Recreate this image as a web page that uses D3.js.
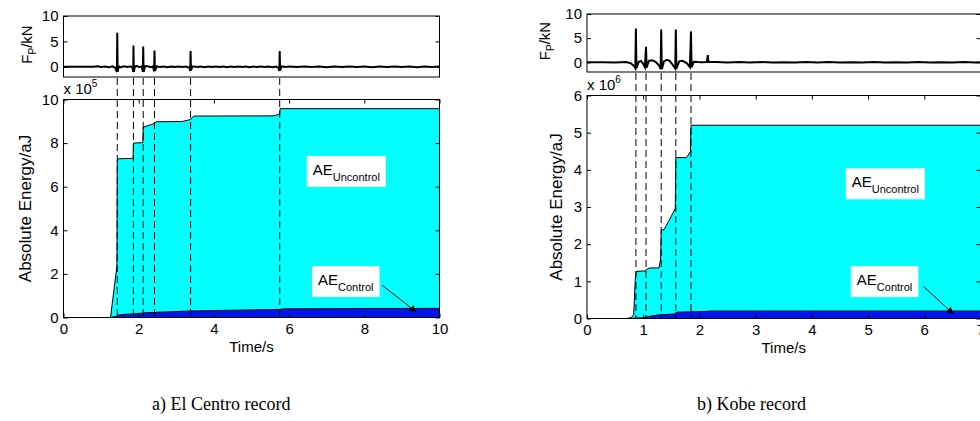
<!DOCTYPE html>
<html>
<head>
<meta charset="utf-8">
<script src="https://cdn.jsdelivr.net/npm/d3@7"></script>
<style>
  body { margin: 0; background: #fff; }
  text { font-family: "Liberation Sans", Arial, sans-serif; fill: #000; }
</style>
</head>
<body>
<div id="chart"></div>
<script>
// ---- El Centro record (a) ----
// damper force F_P [kN] vs time [s]
const elcForce = [[0,0],[0.8,0],[0.9,0.1],[1.0,-0.05],[1.1,0.08],[1.2,-0.1],[1.3,0.1],[1.38,-0.2],[1.42,-1.0],[1.43,6.7],[1.44,-1.0],
  [1.47,0.1],[1.52,-0.1],[1.6,0.1],[1.7,-0.05],[1.78,0.1],[1.84,-0.2],[1.855,-1.0],[1.86,4.2],[1.87,-1.0],[1.9,0.1],[1.96,0.15],
  [2.02,-0.05],[2.08,0.1],[2.11,-1.0],[2.12,4.0],[2.13,-1.0],[2.17,0.15],[2.24,0.1],[2.32,-0.05],[2.38,0.1],[2.41,-0.9],[2.42,3.2],
  [2.43,-0.8],[2.48,0.1],[2.56,-0.05],[2.66,0.08],[2.76,-0.08],[2.86,0.05],[2.96,-0.05],[3.06,0.08],[3.16,-0.05],[3.26,0.05],[3.35,-0.2],
  [3.37,-0.8],[3.38,3.1],[3.39,-0.7],[3.43,0.1],[3.55,-0.05],[3.65,0.05],[3.75,-0.08],[3.85,0.05],[3.95,-0.05],[4.05,0.08],[4.15,-0.05],
  [4.25,0.05],[4.35,-0.08],[4.45,0.05],[4.55,-0.05],[4.65,0.08],[4.75,-0.05],[4.85,0.05],[4.95,-0.08],[5.05,0.05],[5.15,-0.05],[5.25,0.08],
  [5.35,-0.05],[5.45,0.05],[5.55,-0.08],[5.65,0.05],[5.72,-0.2],[5.74,-0.8],[5.75,3.1],[5.76,-0.7],[5.8,0.1],[5.9,-0.05],[6.0,0.05],
  [6.2,-0.05],[6.4,0.06],[6.6,-0.05],[6.8,0.05],[7.0,-0.06],[7.2,0.05],[7.4,-0.05],[7.6,0.06],[7.8,-0.05],[8.0,0.05],[8.2,-0.06],[8.4,0.05],
  [8.6,-0.05],[8.8,0.06],[9.0,-0.05],[9.2,0.05],[9.4,-0.06],[9.6,0.05],[9.8,-0.05],[10,0.05]];
// absolute energy, x 10^5
const elcUncontrol = [[0,0],[1.25,0],[1.42,2.35],[1.43,7.2],[1.46,7.28],[1.85,7.3],[1.86,8.0],[2.11,8.02],[2.12,8.73],[2.3,8.83],
  [2.42,8.9],[2.46,8.98],[3.15,8.99],[3.38,9.08],[3.46,9.24],[5.6,9.25],[5.75,9.33],[5.76,9.58],[10,9.58]];
const elcControl = [[0,0],[1.25,0],[1.4,0.05],[1.45,0.12],[2.1,0.2],[2.2,0.22],[3.38,0.3],[5.75,0.37],[5.9,0.4],[10,0.42]];
const elcPeaks = [1.43, 1.86, 2.12, 2.42, 3.38, 5.75];

// ---- Kobe record (b) ----
const kobeForce = [[0,0],[0.3,0.03],[0.5,-0.03],[0.7,0.05],[0.78,-0.2],[0.84,-0.8],[0.86,-1.2],[0.87,7.0],[0.88,-1.2],[0.92,0.1],
  [0.96,0.3],[1.0,-0.3],[1.03,-1.0],[1.05,3.2],[1.06,-1.1],[1.1,0.3],[1.16,0.4],[1.22,0.1],[1.28,-0.6],[1.31,-1.4],[1.32,6.8],
  [1.33,-1.4],[1.37,0.2],[1.42,0.5],[1.47,0.3],[1.53,-0.6],[1.57,-1.3],[1.58,6.8],[1.59,-1.3],[1.64,0.2],[1.7,0.3],[1.78,-0.2],
  [1.83,-1.0],[1.85,6.4],[1.86,-1.0],[1.9,0.1],[1.97,0.05],[2.05,0.03],[2.13,0.05],[2.15,1.5],[2.16,0.05],[2.3,0.05],[2.5,-0.05],
  [2.7,0.05],[2.9,-0.03],[3.1,0.05],[3.3,-0.05],[3.5,0.03],[3.7,-0.05],[3.9,0.05],[4.1,-0.03],[4.3,0.05],[4.5,-0.05],[4.7,0.03],
  [4.9,-0.05],[5.1,0.05],[5.3,-0.05],[5.5,0.03],[5.7,-0.05],[5.9,0.05],[6.1,-0.05],[6.3,0.03],[6.5,-0.05],[6.7,0.05],[6.9,-0.03],[7,0.03]];
// absolute energy, x 10^6
const kobeUncontrol = [[0,0],[0.7,0],[0.78,0.02],[0.83,0.1],[0.86,1.1],[0.88,1.27],[1.03,1.28],[1.07,1.33],[1.12,1.36],[1.28,1.36],
  [1.31,1.6],[1.32,2.38],[1.37,2.39],[1.57,2.95],[1.58,4.33],[1.77,4.33],[1.84,4.49],[1.85,5.2],[7,5.2]];
const kobeControl = [[0,0],[0.7,0],[1.0,0.02],[1.15,0.07],[1.3,0.1],[1.55,0.12],[1.6,0.17],[2.1,0.19],[2.2,0.2],[7,0.2]];
const kobePeaks = [0.87, 1.05, 1.32, 1.58, 1.85];

// tick values
const forceTicks = [0, 5, 10];
const elcEnergyTicks = [0, 2, 4, 6, 8, 10];
const elcTimeTicks = [0, 2, 4, 6, 8, 10];
const kobeEnergyTicks = [0, 1, 2, 3, 4, 5, 6];
const kobeTimeTicks = [0, 1, 2, 3, 4, 5, 6, 7];

const W = 980, H = 421;
const svg = d3.select("#chart").append("svg").attr("width", W).attr("height", H);
const fmt = d3.format("~g");

function panel(cfg) {
  const g = svg.append("g");
  const x = d3.scaleLinear().domain(cfg.xDomain).range([cfg.left, cfg.right]);
  const yF = d3.scaleLinear().domain([-2, 10]).range([cfg.fBottom, cfg.fTop]);
  const yE = d3.scaleLinear().domain(cfg.eDomain).range([cfg.eBottom, cfg.eTop]);

  const clipF = cfg.id + "-f", clipE = cfg.id + "-e";
  const defs = g.append("defs");
  defs.append("clipPath").attr("id", clipF).append("rect")
    .attr("x", cfg.left).attr("y", cfg.fTop).attr("width", cfg.right - cfg.left).attr("height", cfg.fBottom - cfg.fTop);
  defs.append("clipPath").attr("id", clipE).append("rect")
    .attr("x", cfg.left).attr("y", cfg.eTop).attr("width", cfg.right - cfg.left).attr("height", cfg.eBottom - cfg.eTop);

  // force panel
  const line = d3.line().x(d => x(d[0])).y(d => yF(d[1]));
  g.append("path").datum(cfg.force).attr("clip-path", `url(#${clipF})`)
    .attr("d", line).attr("fill", "none").attr("stroke", "#000").attr("stroke-width", 2);

  // energy areas
  const area = d3.area().x(d => x(d[0])).y0(yE(0)).y1(d => yE(d[1]));
  const top = d3.line().x(d => x(d[0])).y(d => yE(d[1]));
  const ge = g.append("g").attr("clip-path", `url(#${clipE})`);
  ge.append("path").datum(cfg.uncontrol).attr("d", area).attr("fill", "#00ffff");
  ge.append("path").datum(cfg.uncontrol).attr("d", top).attr("fill", "none").attr("stroke", "#000").attr("stroke-width", 1);
  ge.append("path").datum(cfg.control).attr("d", area).attr("fill", "#0014f0");
  ge.append("path").datum(cfg.control).attr("d", top).attr("fill", "none").attr("stroke", "#000").attr("stroke-width", 1);

  // dashed markers from force panel bottom to energy axis
  g.selectAll(".mark").data(cfg.peaks).join("line")
    .attr("x1", d => x(d)).attr("x2", d => x(d))
    .attr("y1", cfg.fBottom + 1).attr("y2", cfg.eBottom)
    .attr("stroke", "#000").attr("stroke-width", 1).attr("stroke-dasharray", "7,4");

  // axes (MATLAB style: inward ticks on all sides)
  const fontTick = "15px";
  g.append("g").attr("transform", `translate(${cfg.left},0)`)
    .call(d3.axisLeft(yF).tickValues(forceTicks).tickFormat(fmt).tickSizeInner(-4).tickSizeOuter(0).tickPadding(5))
    .call(a => a.select(".domain").remove()).selectAll("text").style("font-size", fontTick);
  g.append("g").attr("transform", `translate(${cfg.right},0)`)
    .call(d3.axisRight(yF).tickValues(forceTicks).tickSizeInner(-4).tickSizeOuter(0).tickFormat(""))
    .call(a => a.select(".domain").remove());

  g.append("g").attr("transform", `translate(${cfg.left},0)`)
    .call(d3.axisLeft(yE).tickValues(cfg.eTicks).tickFormat(fmt).tickSizeInner(-4).tickSizeOuter(0).tickPadding(5))
    .call(a => a.select(".domain").remove()).selectAll("text").style("font-size", fontTick);
  g.append("g").attr("transform", `translate(${cfg.right},0)`)
    .call(d3.axisRight(yE).tickValues(cfg.eTicks).tickSizeInner(-4).tickSizeOuter(0).tickFormat(""))
    .call(a => a.select(".domain").remove());
  g.append("g").attr("transform", `translate(0,${cfg.eBottom})`)
    .call(d3.axisBottom(x).tickValues(cfg.tTicks).tickFormat(fmt).tickSizeInner(-4).tickSizeOuter(0).tickPadding(6))
    .call(a => a.select(".domain").remove()).selectAll("text").style("font-size", fontTick);
  g.append("g").attr("transform", `translate(0,${cfg.eTop})`)
    .call(d3.axisTop(x).tickValues(cfg.tTicks).tickSizeInner(-4).tickSizeOuter(0).tickFormat(""))
    .call(a => a.select(".domain").remove());
  g.selectAll(".tick line").attr("stroke", "#000");
  g.selectAll(".tick text").style("font-family", "Liberation Sans, Arial, sans-serif");

  // frames
  g.append("rect").attr("x", cfg.left).attr("y", cfg.fTop).attr("width", cfg.right - cfg.left)
    .attr("height", cfg.fBottom - cfg.fTop).attr("fill", "none").attr("stroke", "#000");
  g.append("rect").attr("x", cfg.left).attr("y", cfg.eTop).attr("width", cfg.right - cfg.left)
    .attr("height", cfg.eBottom - cfg.eTop).attr("fill", "none").attr("stroke", "#000");

  // exponent label
  const ex = g.append("text").attr("x", cfg.left).attr("y", cfg.eTop - 6).style("font-size", "15px");
  ex.append("tspan").text("x 10");
  ex.append("tspan").attr("dy", -7).style("font-size", "10px").text(cfg.exp);

  // axis titles
  const fl = g.append("text").attr("transform", `translate(${cfg.fLabelX},${(cfg.fTop + cfg.fBottom) / 2 - 2}) rotate(-90)`)
    .attr("text-anchor", "middle").style("font-size", "15px");
  fl.append("tspan").text("F");
  fl.append("tspan").attr("dy", 4).style("font-size", "10px").text("P");
  fl.append("tspan").attr("dy", -4).text("/kN");

  g.append("text").attr("transform", `translate(${cfg.eLabelX},${(cfg.eTop + cfg.eBottom) / 2}) rotate(-90)`)
    .attr("text-anchor", "middle").style("font-size", "17px").text("Absolute Energy/aJ");
  g.append("text").attr("x", (cfg.left + cfg.right) / 2).attr("y", cfg.eBottom + 34)
    .attr("text-anchor", "middle").style("font-size", "15px").text("Time/s");

  // annotation boxes
  function label(px, py, sub) {
    const lg = g.append("g");
    const r = lg.append("rect").attr("fill", "#fff");
    const t = lg.append("text").attr("x", x(px)).attr("y", yE(py)).style("font-size", "15px");
    t.append("tspan").text("AE");
    t.append("tspan").attr("dy", 6).style("font-size", "11px").text(sub);
    const b = t.node().getBBox();
    r.attr("x", b.x - 6).attr("y", b.y - 5).attr("width", b.width + 12).attr("height", b.height + 9);
  }
  label(cfg.unLabel[0], cfg.unLabel[1], "Uncontrol");
  label(cfg.coLabel[0], cfg.coLabel[1], "Control");

  // arrow to control area
  const a0 = cfg.arrow[0], a1 = cfg.arrow[1];
  g.append("line").attr("x1", x(a0[0])).attr("y1", yE(a0[1])).attr("x2", x(a1[0])).attr("y2", yE(a1[1]))
    .attr("stroke", "#000").attr("stroke-width", 1).attr("marker-end", "url(#arrowhead)");

  // caption
  svg.append("text").attr("x", cfg.captionX).attr("y", 410)
    .style("font-family", "Liberation Serif, Times New Roman, serif").style("font-size", "18px").text(cfg.caption);
}

svg.append("defs").append("marker").attr("id", "arrowhead").attr("viewBox", "0 0 10 10")
  .attr("refX", 10).attr("refY", 5).attr("markerWidth", 9).attr("markerHeight", 7)
  .attr("markerUnits", "userSpaceOnUse").attr("orient", "auto")
  .append("path").attr("d", "M0,0L10,5L0,10Z").attr("fill", "#000");

panel({
  id: "elc", left: 63.5, right: 439.5, fTop: 16, fBottom: 77, eTop: 99.5, eBottom: 317.5,
  xDomain: [0, 10], eDomain: [0, 10], eTicks: elcEnergyTicks, tTicks: elcTimeTicks,
  force: elcForce, uncontrol: elcUncontrol, control: elcControl, peaks: elcPeaks, exp: "5",
  fLabelX: 32, eLabelX: 31,
  unLabel: [6.63, 6.54], coLabel: [6.77, 1.49], arrow: [[8.47, 1.49], [9.39, 0.24]],
  caption: "a) El Centro record", captionX: 152
});
panel({
  id: "kobe", left: 587, right: 980.5, fTop: 14, fBottom: 72, eTop: 95.5, eBottom: 318.5,
  xDomain: [0, 7], eDomain: [0, 6], eTicks: kobeEnergyTicks, tTicks: kobeTimeTicks,
  force: kobeForce, uncontrol: kobeUncontrol, control: kobeControl, peaks: kobePeaks, exp: "6",
  fLabelX: 550, eLabelX: 562,
  unLabel: [4.71, 3.53], coLabel: [4.80, 0.9], arrow: [[5.98, 0.87], [6.52, 0.12]],
  caption: "b) Kobe record", captionX: 697
});
</script>
</body>
</html>
